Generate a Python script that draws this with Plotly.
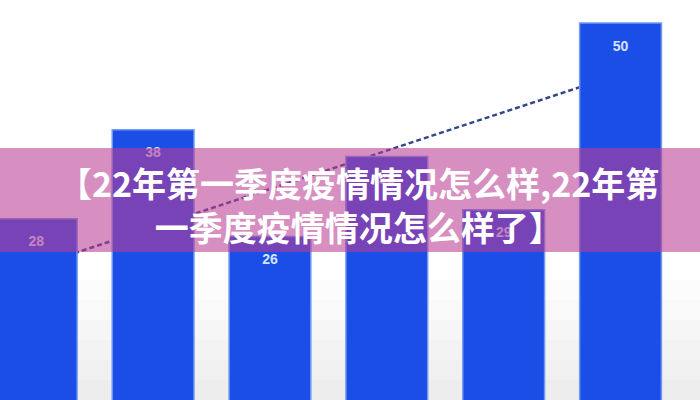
import plotly.graph_objects as go

# chart data
positions = [0, 1, 2, 3, 4, 5]
values = [28, 38, 26, 35, 29, 50]
labels = ["28", "38", "26", "35", "29", "50"]

trend_x = [0, 5]
trend_y = [22.7, 44.3]

title_text = "【22年第一季度疫情情况怎么样,22年第<br>一季度疫情情况怎么样了】"

fig = go.Figure()

fig.add_trace(go.Bar(
    x=positions, y=values, width=0.7,
    marker=dict(color="#1b4ee6", line=dict(color="#6f9cf2", width=1.5)),
    showlegend=False, hoverinfo="skip"
))

# value labels a little below each bar top
fig.add_trace(go.Scatter(
    x=positions, y=[v - 2.7 for v in values], mode="text",
    text=["<b>" + t + "</b>" for t in labels],
    textfont=dict(family="Liberation Sans, Arial", size=14, color="#d6e4ff"),
    showlegend=False, hoverinfo="skip"
))

# dashed trend line, kept under the bars
fig.add_shape(
    type="line", xref="x", yref="y",
    x0=trend_x[0], y0=trend_y[0], x1=trend_x[1], y1=trend_y[1],
    line=dict(color="#34468a", width=2.5, dash="5px,3px"),
    layer="below"
)

# soft grey shading towards the bottom of the picture
for i in range(6):
    fig.add_shape(
        type="rect", xref="paper", yref="paper",
        x0=0, x1=1, y0=0, y1=0.30 - i * 0.05,
        fillcolor="rgba(190,190,200,0.05)", line_width=0, layer="below"
    )

# pink banner over the middle
fig.add_shape(
    type="rect", xref="paper", yref="paper",
    x0=0, x1=1, y0=1 - 252 / 400, y1=1 - 148 / 400,
    fillcolor="rgba(186,60,146,0.58)", line_width=0, layer="above"
)

fig.add_annotation(
    x=0.512, y=1 - 205 / 400, xref="paper", yref="paper",
    text="<b>" + title_text + "</b>", showarrow=False,
    font=dict(family="Noto Sans CJK SC", size=34, color="white"),
    align="center"
)

fig.update_layout(
    width=700, height=400,
    margin=dict(l=0, r=0, t=0, b=0),
    paper_bgcolor="white", plot_bgcolor="white",
    xaxis=dict(range=[-0.31, 5.68], visible=False),
    yaxis=dict(range=[7.6, 52.6], visible=False),
    bargap=0.3
)

# drop the page margin so the figure sits flush in the window
fig.write_html(
    "out.html",
    config={"displayModeBar": False},
    post_script="document.body.style.margin = '0';"
)
